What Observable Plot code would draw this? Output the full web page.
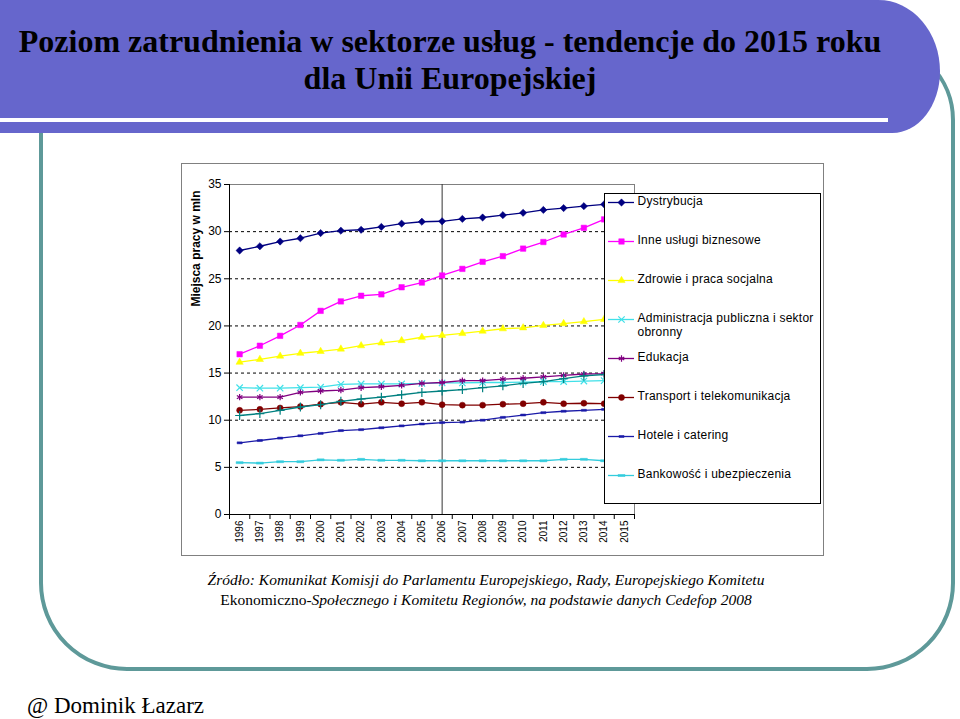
<!DOCTYPE html>
<html lang="pl"><head><meta charset="utf-8">
<script src="https://cdn.jsdelivr.net/npm/d3@7"></script>
<script src="https://cdn.jsdelivr.net/npm/@observablehq/plot@0.6"></script>
<style>
html,body{margin:0;padding:0;background:#fff;}
body{width:960px;height:719px;position:relative;overflow:hidden;font-family:"Liberation Serif","Times New Roman",serif;color:#000;}
#frame{position:absolute;left:39px;top:40px;width:916px;height:631px;box-sizing:border-box;border:4px solid #5e9999;border-radius:0 80px 88px 88px;}
#banner{position:absolute;left:0;top:0;width:940px;height:133px;background:#6666cc;border-radius:0 62px 48px 0 / 0 72px 62px 0;}
#bline{position:absolute;left:0;top:118px;width:888px;height:4px;background:#fff;}
#title{position:absolute;left:0;top:23px;width:900px;text-align:center;font-weight:bold;font-size:32px;line-height:37px;white-space:nowrap;}
#chart{position:absolute;left:181px;top:163px;width:643px;height:393px;box-sizing:border-box;border:1px solid #808080;background:#fff;}
#legend{position:absolute;left:604px;top:193px;width:217px;height:311px;box-sizing:border-box;border:1px solid #000;background:#fff;}
#caption{position:absolute;left:186px;top:570px;width:600px;text-align:center;font-style:italic;font-size:15.5px;line-height:20px;white-space:nowrap;}
#caption .up{font-style:normal;}
#author{position:absolute;left:27px;top:691px;font-size:23px;line-height:30px;white-space:nowrap;}
svg{display:block;}
</style></head><body>
<div id="frame"></div>
<div id="banner"></div>
<div id="bline"></div>
<div id="title">Poziom zatrudnienia w sektorze usług - tendencje do 2015 roku<br>dla Unii Europejskiej</div>
<div id="chart"></div>
<div id="legend"></div>
<div id="caption">Źródło: Komunikat Komisji do Parlamentu Europejskiego, Rady, Europejskiego Komitetu<br><span class="up">Ekonomiczno-</span>Społecznego i Komitetu Regionów, na podstawie danych Cedefop 2008</div>
<div id="author">@ Dominik Łazarz</div>
<script>
// ---- data ----
const years = [1996,1997,1998,1999,2000,2001,2002,2003,2004,2005,2006,2007,2008,2009,2010,2011,2012,2013,2014,2015];
const yTicks = [0,5,10,15,20,25,30,35];
const forecastYear = 2006;
const yLabel = "Miejsca pracy w mln";

const dystrybucja   = [28.0,28.45,28.95,29.3,29.85,30.1,30.2,30.5,30.85,31.05,31.1,31.35,31.5,31.75,32.0,32.3,32.5,32.7,32.9,33.1];
const inneUslugi    = [17.0,17.9,18.95,20.1,21.6,22.6,23.2,23.35,24.1,24.6,25.35,26.05,26.8,27.4,28.2,28.9,29.7,30.4,31.3,32.1];
const zdrowie       = [16.15,16.45,16.8,17.1,17.3,17.55,17.9,18.2,18.45,18.8,19.0,19.2,19.45,19.7,19.8,20.05,20.25,20.45,20.7,20.9];
const administracja = [13.45,13.4,13.4,13.45,13.5,13.8,13.85,13.85,13.85,13.9,13.95,13.95,14.0,14.0,14.05,14.1,14.1,14.15,14.2,14.25];
const edukacja      = [12.45,12.45,12.45,12.95,13.1,13.2,13.45,13.55,13.7,13.9,14.0,14.2,14.2,14.35,14.45,14.6,14.75,14.9,14.95,15.05];
const transport     = [11.05,11.15,11.3,11.45,11.7,11.9,11.7,11.9,11.75,11.9,11.65,11.6,11.6,11.7,11.75,11.9,11.75,11.8,11.75,11.75];
const hotele        = [7.6,7.85,8.1,8.35,8.6,8.9,9.0,9.2,9.4,9.6,9.75,9.8,10.0,10.3,10.55,10.8,10.95,11.05,11.15,11.25];
const bankowosc     = [5.5,5.45,5.6,5.6,5.8,5.75,5.85,5.75,5.75,5.7,5.7,5.7,5.7,5.7,5.7,5.7,5.85,5.85,5.7,5.7];
const pozostale     = [10.5,10.7,11.05,11.4,11.65,12.0,12.25,12.45,12.7,12.95,13.1,13.25,13.45,13.65,13.9,14.1,14.4,14.7,14.85,15.0];

const seriesNames = ["Dystrybucja","Inne usługi biznesowe","Zdrowie i praca socjalna","Administracja publiczna i sektor obronny","Edukacja","Transport i telekomunikacja","Hotele i catering","Bankowość i ubezpieczenia","Pozostałe"];
const seriesValues = [dystrybucja,inneUslugi,zdrowie,administracja,edukacja,transport,hotele,bankowosc,pozostale];
const legendLabels = ["Dystrybucja","Inne usługi biznesowe","Zdrowie i praca socjalna","Administracja publiczna i sektor\nobronny","Edukacja","Transport i telekomunikacja","Hotele i catering","Bankowość i ubezpieczenia"];

// ---- styles ----
const diamondSym = {draw(ctx, size){const r=Math.sqrt(size)*0.62; ctx.moveTo(0,-r); ctx.lineTo(r,0); ctx.lineTo(0,r); ctx.lineTo(-r,0); ctx.closePath();}};
const dashSym = {draw(ctx, size){const w=Math.sqrt(size)*0.55, h=1; ctx.moveTo(-w,-h); ctx.lineTo(w,-h); ctx.lineTo(w,h); ctx.lineTo(-w,h); ctx.closePath();}};
const styles = [
  {color:"#000080", symbol:diamondSym, r:3.3, filled:true},
  {color:"#ff00ff", symbol:"square", r:3.1, filled:true},
  {color:"#ffff00", symbol:"triangle", r:2.7, filled:true},
  {color:"#40e0e8", symbol:"times", r:3.0, filled:false},
  {color:"#800080", symbol:"asterisk", r:3.0, filled:false},
  {color:"#800000", symbol:"circle", r:3.0, filled:true},
  {color:"#1a1aa8", symbol:dashSym, r:2.6, filled:true},
  {color:"#33ccdd", symbol:dashSym, r:3.6, filled:true},
  {color:"#008080", symbol:"plus", r:3.0, filled:false}
];

const rows = [];
seriesNames.forEach((name, i) => seriesValues[i].forEach((v, j) => rows.push({series:name, year:years[j], value:v})));
const boundaries = years.map(y => y - 0.5).concat([years[years.length-1] + 0.5]);

const seriesMarks = [];
const drawOrder = [0,1,2,3,4,5,6,8,7];
drawOrder.forEach(i => {
  const name = seriesNames[i], s = styles[i];
  const data = rows.filter(d => d.series === name);
  seriesMarks.push(Plot.line(data, {x:"year", y:"value", stroke:s.color, strokeWidth:1.3}));
  seriesMarks.push(Plot.dot(data, {x:"year", y:"value", symbol:s.symbol, r:s.r,
    fill: s.filled ? s.color : "none", stroke: s.color, strokeWidth: s.filled ? 0.5 : 1.2}));
});

const font = '"Liberation Sans", Arial, sans-serif';
const chart = Plot.plot({
  width: 641, height: 391,
  marginLeft: 47, marginTop: 20, marginRight: 189, marginBottom: 41,
  style: {fontFamily: font, background: "transparent", color: "#000", overflow: "visible"},
  x: {type: "linear", domain: [boundaries[0], boundaries[boundaries.length-1]]},
  y: {domain: [yTicks[0], yTicks[yTicks.length-1]]},
  marks: [
    Plot.gridY(yTicks.slice(1, -1), {stroke:"#000", strokeOpacity:1, strokeDasharray:"3,3"}),
    Plot.frame({stroke:"#808080"}),
    Plot.ruleX([boundaries[0]], {stroke:"#000"}),
    Plot.ruleY([yTicks[0]], {stroke:"#000"}),
    Plot.ruleX([forecastYear], {stroke:"#333"}),
    Plot.axisY(yTicks, {tickSize:5, tickPadding:3, fontSize:12, label:null}),
    Plot.axisX(years, {tickSize:0, tickRotate:-90, fontSize:10, tickPadding:6, tickFormat:d => String(d), label:null}),
    Plot.axisX(boundaries, {tickSize:5, tickFormat:() => "", label:null}),
    ...seriesMarks,
    Plot.text([yLabel], {text:d => d, frameAnchor:"top-left", rotate:-90, textAnchor:"end", dx:-38, dy:6, fontWeight:"bold", fontSize:12})
  ]
});
document.getElementById("chart").append(chart);

// ---- legend ----
const legendMarks = [];
legendLabels.forEach((lab, i) => {
  const s = styles[i];
  legendMarks.push(Plot.ruleY([lab], {y:d => d, x1:() => 0, x2:() => 1, stroke:s.color, strokeWidth:1.3}));
  legendMarks.push(Plot.dot([lab], {x:() => 0.5, y:d => d, symbol:s.symbol, r:s.r,
    fill: s.filled ? s.color : "none", stroke: s.color, strokeWidth: s.filled ? 0.5 : 1.2}));
});
legendMarks.push(Plot.text(legendLabels, {x:() => 1, y:d => d, text:d => d, textAnchor:"start", lineAnchor:"top", lineHeight:1.15, dx:3, dy:-7, fontSize:12, fill:"#000"}));
const legend = Plot.plot({
  width: 215, height: 309, margin: 0,
  style: {fontFamily: font, background: "transparent", color: "#000", overflow: "visible", letterSpacing: "0.25px"},
  x: {domain:[0,1], range:[3,29], axis:null},
  y: {type:"point", domain:legendLabels, range:[8,281], padding:0, axis:null},
  marks: legendMarks
});
document.getElementById("legend").append(legend);
</script>
</body></html>
